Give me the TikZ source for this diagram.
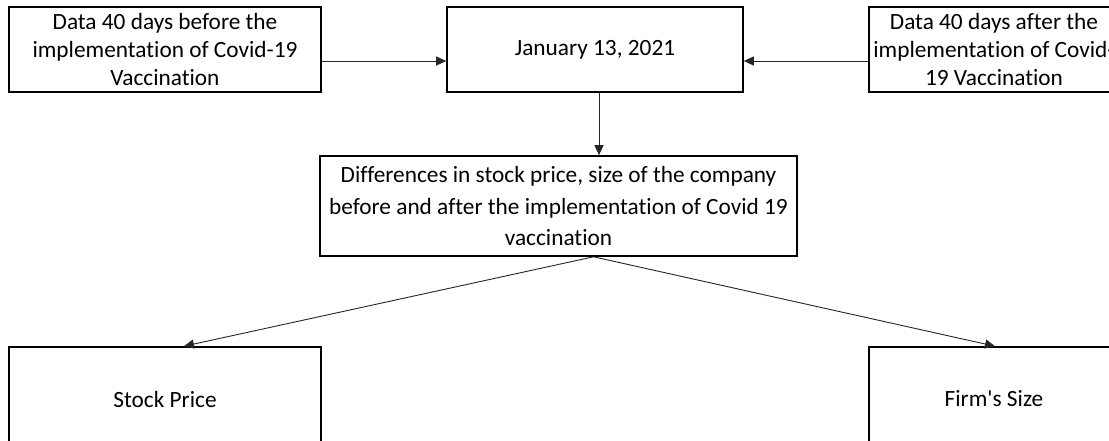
\documentclass[tikz,border=0pt]{standalone}
\usepackage{fontspec}
\setmainfont{Carlito}[Ligatures={TeXOff,NoCommon}]
\usetikzlibrary{arrows.meta}
\begin{document}
\begin{tikzpicture}[x=1pt,y=-1pt,
  box/.style={draw=black,line width=1.6pt,rectangle,inner sep=0pt,align=center,
    font=\fontsize{23.3}{28}\selectfont},
  arr/.style={draw=black!85,line width=0.9pt,-{Triangle[length=10pt,width=9pt]}}]
\useasboundingbox[fill=white] (0,0) rectangle (1109,440);
\node[box,minimum width=312pt,minimum height=85pt] (b1) at (165,49.5)
  {Data 40 days before the\\implementation of Covid-19\\Vaccination};
\node[box,minimum width=296pt,minimum height=85pt] (b2) at (595,49.5)
  {January 13, 2021};
\node[box,minimum width=250pt,minimum height=85pt] (b3) at (994,49.5)
  {Data 40 days after the\\implementation of Covid-\\19 Vaccination};
\node[box,minimum width=477pt,minimum height=100pt,
  font=\fontsize{23.3}{31.5}\selectfont] (b4) at (558.5,206)
  {Differences in stock price, size of the company\\before and after the implementation of Covid 19\\vaccination};
\node[box,minimum width=312pt,minimum height=104pt] (b5) at (165,399)
  {Stock Price};
\node[box,minimum width=250pt,minimum height=104pt] (b6) at (994,399)
  {Firm's Size};
\draw[arr] ([yshift=-11.5pt]b1.east) -- ([yshift=-11.5pt]b2.west);
\draw[arr] ([yshift=-11.5pt]b3.west) -- ([yshift=-11.5pt]b2.east);
\draw[arr] ([xshift=4pt]b2.south) -- ([xshift=40.5pt]b4.north);
\draw[arr] ([xshift=35pt]b4.south) -- ([xshift=19pt]b5.north);
\draw[arr] ([xshift=35pt]b4.south) -- ([xshift=1pt]b6.north);
\end{tikzpicture}
\end{document}
